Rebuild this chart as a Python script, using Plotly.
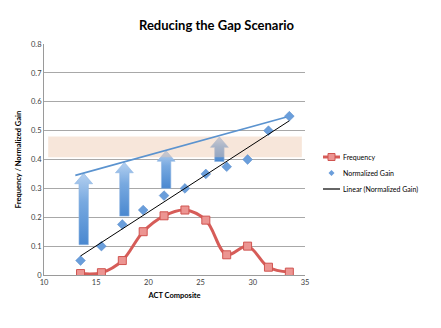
import numpy as np
import plotly.graph_objects as go

# ACT composite score bins
act = [13.5, 15.5, 17.5, 19.5, 21.5, 23.5, 25.5, 27.5, 29.5, 31.5, 33.5]
frequency = [0.005, 0.008, 0.05, 0.15, 0.205, 0.225, 0.19, 0.07, 0.1, 0.027, 0.01]
normalized_gain = [0.05, 0.1, 0.175, 0.225, 0.275, 0.3, 0.35, 0.375, 0.4, 0.5, 0.55]

# target line the gains are lifted up to
target_x = [13.0, 33.5]
target_y = [0.345, 0.55]

# shaded target zone
band_x = [10.4, 34.7]
band_y = [0.408, 0.48]

# upward "reduce the gap" arrows
arrow_x = [13.8, 17.7, 21.7, 26.8]
arrow_bottom = [0.105, 0.204, 0.3, 0.393]
arrow_tip = [0.352, 0.39, 0.43, 0.478]

legend_labels = ["Frequency", "Normalized Gain", "Linear (Normalized Gain)"]

SHAFT_W = 0.9
HEAD_W = 1.72
HEAD_H = 0.036

RED = "#d65c58"
BLUE = "#6a9edb"

# plot area in pixels (fixed figure size)
W, H = 441, 328
ML, MR, MT, MB = 44, 136, 44, 53
PW, PH = W - ML - MR, H - MT - MB


def px(x):
    return (x - ML) / PW


def py(y):
    return (H - MB - y) / PH


fig = go.Figure()

for cx, b, t in zip(arrow_x, arrow_bottom, arrow_tip):
    base = t - HEAD_H
    xs = [cx - SHAFT_W / 2, cx + SHAFT_W / 2, cx + SHAFT_W / 2, cx + HEAD_W / 2,
          cx, cx - HEAD_W / 2, cx - SHAFT_W / 2, cx - SHAFT_W / 2]
    ys = [b, b, base, base, t, base, base, b]
    fig.add_trace(go.Scatter(
        x=xs, y=ys, mode="lines", fill="toself",
        line=dict(width=0.6, color="#8fb6e3"),
        fillgradient=dict(type="vertical",
                          colorscale=[[0, "#4a88d0"], [0.6, "#78a9e0"],
                                      [1, "#b4d0f0"]]),
        hoverinfo="skip", showlegend=False))

# translucent band over the arrows
fig.add_trace(go.Scatter(
    x=[band_x[0], band_x[1], band_x[1], band_x[0], band_x[0]],
    y=[band_y[0], band_y[0], band_y[1], band_y[1], band_y[0]],
    mode="lines", fill="toself", line=dict(width=0),
    fillcolor="rgba(236,196,168,0.42)", hoverinfo="skip", showlegend=False))

fig.add_trace(go.Scatter(
    x=target_x, y=target_y, mode="lines",
    line=dict(color="#5b93cf", width=1.6), showlegend=False))

fig.add_trace(go.Scatter(
    x=act, y=frequency, mode="lines+markers", name=legend_labels[0],
    line=dict(color=RED, width=3, shape="spline", smoothing=1.0),
    marker=dict(symbol="square", size=8, color="#ec9592",
                line=dict(color="#d05450", width=1)),
    showlegend=False))

fig.add_trace(go.Scatter(
    x=act, y=normalized_gain, mode="markers", name=legend_labels[1],
    marker=dict(symbol="diamond", size=7.5, color=BLUE,
                line=dict(color="#5588c8", width=0.5)),
    showlegend=False))

# least-squares trendline of the normalized gain
slope, intercept = np.polyfit(act, normalized_gain, 1)
trend_x = [act[0], act[-1]]
trend_y = [slope * v + intercept for v in trend_x]
fig.add_trace(go.Scatter(
    x=trend_x, y=trend_y, mode="lines", name=legend_labels[2],
    line=dict(color="#000000", width=1), showlegend=False))

# compact hand-placed legend
rows = [157, 173, 189]
sym_x0, sym_x1, text_x = 323, 340, 341
sym_c = (sym_x0 + sym_x1) / 2
shapes = [
    dict(type="line", xref="paper", yref="paper",
         x0=px(sym_x0), x1=px(sym_x1), y0=py(rows[0]), y1=py(rows[0]),
         line=dict(color=RED, width=3)),
    dict(type="rect", xref="paper", yref="paper",
         x0=px(sym_c - 3.5), x1=px(sym_c + 3.5),
         y0=py(rows[0] + 3.5), y1=py(rows[0] - 3.5),
         fillcolor="#ec9592", line=dict(color="#d05450", width=1)),
    dict(type="path", xref="paper", yref="paper",
         path=(f"M {px(sym_c)},{py(rows[1] - 3)} L {px(sym_c + 3)},{py(rows[1])} "
               f"L {px(sym_c)},{py(rows[1] + 3)} L {px(sym_c - 3)},{py(rows[1])} Z"),
         fillcolor=BLUE, line=dict(width=0)),
    dict(type="line", xref="paper", yref="paper",
         x0=px(sym_x0), x1=px(sym_x1), y0=py(rows[2]), y1=py(rows[2]),
         line=dict(color="#000000", width=1.2)),
]
annotations = [
    dict(text=lab, xref="paper", yref="paper", x=px(text_x), y=py(r),
         xanchor="left", yanchor="middle", showarrow=False,
         font=dict(family="Lato, sans-serif", size=7, color="#000"))
    for lab, r in zip(legend_labels, rows)
]

tick_font = dict(family="Lato, Open Sans, sans-serif", size=7.5, color="#404040")

fig.update_layout(
    width=W, height=H,
    margin=dict(l=ML, r=MR, t=MT, b=MB, autoexpand=False),
    paper_bgcolor="white", plot_bgcolor="white",
    showlegend=False,
    shapes=shapes, annotations=annotations,
    title=dict(text="<b>Reducing the Gap Scenario</b>",
               font=dict(family="Lato, sans-serif", size=13, color="#000000"),
               xref="container", x=216.5 / W, xanchor="center",
               yref="container", y=1 - 25 / H, yanchor="middle"),
    xaxis=dict(range=[10, 35], tickvals=[10, 15, 20, 25, 30, 35],
               showgrid=False, zeroline=False, showline=True,
               linecolor="#9a9a9a", linewidth=1, ticks="",
               tickfont=tick_font,
               title=dict(text="<b>ACT Composite</b>", standoff=6,
                          font=dict(family="Lato, sans-serif", size=7.5, color="#000"))),
    yaxis=dict(range=[0, 0.8], tickvals=[0, 0.1, 0.2, 0.3, 0.4, 0.5, 0.6, 0.7, 0.8],
               ticktext=["0", "0.1", "0.2", "0.3", "0.4", "0.5", "0.6", "0.7", "0.8"],
               showgrid=True, gridcolor="#a8a8a8", gridwidth=1,
               zeroline=False, showline=True, linecolor="#9a9a9a", linewidth=1,
               ticks="", tickfont=tick_font,
               title=dict(text="<b>Frequency / Normalized Gain</b>", standoff=8,
                          font=dict(family="Lato, sans-serif", size=7.5, color="#000"))),
)

fig.write_html("out.html")
